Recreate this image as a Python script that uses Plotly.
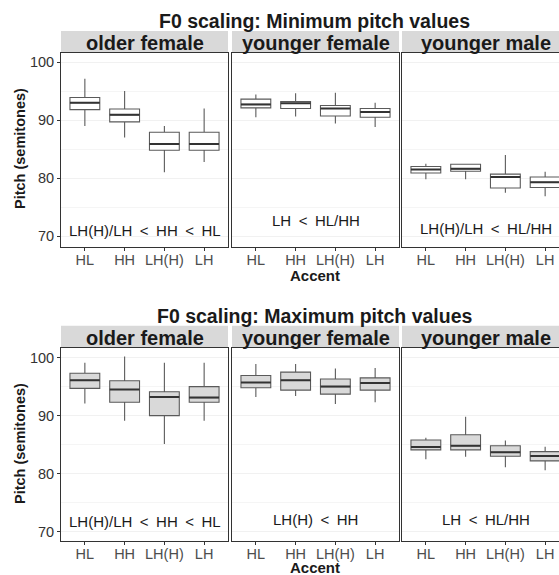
import plotly.graph_objects as go

# ---------------- data ----------------
accents = ["HL", "HH", "LH(H)", "LH"]
groups = ["older female", "younger female", "younger male"]
panel_titles = ["F0 scaling: Minimum pitch values", "F0 scaling: Maximum pitch values"]

# Minimum pitch values (semitones)
min_lower = [[89.0, 87.0, 81.0, 82.8], [90.5, 90.6, 89.4, 88.8], [79.8, 79.8, 77.5, 76.9]]
min_q1    = [[91.8, 89.7, 84.8, 84.8], [92.1, 92.0, 90.7, 90.5], [80.9, 81.2, 78.3, 78.4]]
min_med   = [[93.0, 90.9, 85.9, 85.9], [92.7, 92.9, 92.0, 91.4], [81.5, 81.6, 80.2, 79.3]]
min_q3    = [[93.9, 91.9, 87.9, 87.9], [93.6, 93.2, 92.5, 92.0], [82.0, 82.4, 80.7, 80.2]]
min_upper = [[97.1, 95.0, 89.0, 92.0], [94.4, 94.6, 94.7, 93.0], [82.5, 82.4, 84.0, 81.1]]

# Maximum pitch values (semitones)
max_lower = [[92.1, 89.1, 85.1, 89.1], [93.2, 93.4, 92.0, 92.3], [82.5, 82.9, 81.1, 80.6]]
max_q1    = [[94.7, 92.3, 90.0, 92.3], [94.8, 94.4, 93.7, 94.4], [84.1, 84.1, 83.0, 82.2]]
max_med   = [[96.1, 94.5, 93.2, 93.1], [95.7, 96.1, 95.0, 95.6], [84.6, 84.8, 83.7, 83.05]]
max_q3    = [[97.3, 96.0, 94.1, 95.0], [96.9, 97.5, 96.3, 96.5], [85.8, 86.7, 84.8, 83.8]]
max_upper = [[99.1, 100.2, 99.1, 99.1], [98.9, 98.9, 98.1, 98.2], [86.2, 89.8, 85.7, 84.65]]

min_labels = ["LH(H)/LH < HH < HL", "LH < HL/HH", "LH(H)/LH < HL/HH"]
max_labels = ["LH(H)/LH < HH < HL", "LH(H) < HH", "LH < HL/HH"]

y_ticks = [70, 80, 90, 100]

# ---------------- layout geometry ----------------
W, H = 559, 575
FONT = "Liberation Sans, Arial, sans-serif"

def px_x(p):
    return p / W

def px_y(p):
    return 1 - p / H

xdom = [(px_x(61), px_x(228)), (px_x(232), px_x(399)), (px_x(402), 1.0)]
rows = [
    dict(top=53, bottom=246.7, strip_top=31, yr=[68.2, 101.55], fill="#ffffff",
         title_y=21, ylab_y=149, accent_y=275.5, lab_y=[71.0, 72.7, 71.3],
         data=(min_lower, min_q1, min_med, min_q3, min_upper), labels=min_labels),
    dict(top=347.7, bottom=541, strip_top=325.7, yr=[68.4, 101.7], fill="#d9d9d9",
         title_y=316, ylab_y=444, accent_y=567.5, lab_y=[71.8, 72.1, 72.1],
         data=(max_lower, max_q1, max_med, max_q3, max_upper), labels=max_labels),
]

fig = go.Figure()
layout = dict(
    width=W, height=H,
    margin=dict(l=0, r=0, t=0, b=0),
    paper_bgcolor="white", plot_bgcolor="white",
    showlegend=False,
    font=dict(family=FONT, color="#1a1a1a"),
    shapes=[], annotations=[],
)

for r, row in enumerate(rows):
    lower, q1, med, q3, upper = row["data"]
    ydom = (px_y(row["bottom"]), px_y(row["top"]))
    for c, g in enumerate(groups):
        k = r * 3 + c + 1
        sfx = "" if k == 1 else str(k)
        xa, ya = f"x{sfx}", f"y{sfx}"
        # box bodies + whiskers
        fig.add_trace(go.Box(
            x=accents, q1=q1[c], median=med[c], q3=q3[c],
            lowerfence=lower[c], upperfence=upper[c],
            xaxis=xa, yaxis=ya, width=0.75, whiskerwidth=0,
            fillcolor=row["fill"], line=dict(color="#5a5a5a", width=1.1),
            boxpoints=False, hoverinfo="skip",
        ))
        # emphasised median bar
        fig.add_trace(go.Box(
            x=accents, q1=med[c], median=med[c], q3=med[c],
            lowerfence=med[c], upperfence=med[c],
            xaxis=xa, yaxis=ya, width=0.75, whiskerwidth=0,
            fillcolor="rgba(0,0,0,0)", line=dict(color="#333333", width=2),
            boxpoints=False, hoverinfo="skip",
        ))
        xr = [-0.6, 3.6] if c < 2 else [-0.6, -0.6 + (W - 402) * 4.2 / 167]
        layout[f"xaxis{sfx}"] = dict(
            domain=list(xdom[c]), anchor=ya, type="category",
            categoryorder="array", categoryarray=accents, range=xr,
            showline=True, mirror=True, linecolor="#333333", linewidth=1,
            ticks="outside", ticklen=3, tickcolor="#333333",
            ticklabelstandoff=-3,
            tickfont=dict(size=14.5, color="#4d4d4d", family=FONT),
            showgrid=False, zeroline=False, fixedrange=True,
        )
        layout[f"yaxis{sfx}"] = dict(
            domain=list(ydom), anchor=xa, range=row["yr"],
            tickmode="array", tickvals=y_ticks,
            showticklabels=(c == 0), ticks="outside" if c == 0 else "",
            ticklen=3, tickcolor="#333333",
            tickfont=dict(size=14.5, color="#333333", family=FONT),
            showline=True, mirror=(c < 2), linecolor="#333333", linewidth=1,
            showgrid=True, gridcolor="#f1f1f1", gridwidth=1,
            minor=dict(tickmode="array", tickvals=[75, 85, 95], showgrid=True,
                       gridcolor="#f5f5f5", gridwidth=1),
            zeroline=False, fixedrange=True,
        )
        # strip
        layout["shapes"].append(dict(
            type="rect", xref=f"{xa} domain", yref="paper",
            x0=0, x1=1, y0=px_y(row["top"]), y1=px_y(row["strip_top"]),
            fillcolor="#d9d9d9", line=dict(width=0), layer="below",
        ))
        layout["annotations"].append(dict(
            xref=xa, yref="paper", x=1.5, y=px_y((row["top"] + row["strip_top"]) / 2 + 1),
            text=f"<b>{g}</b>", showarrow=False, xanchor="center", yanchor="middle",
            font=dict(size=20, color="#1a1a1a", family=FONT),
        ))
        # comparison label (wide spacing around "<" as in the original)
        layout["annotations"].append(dict(
            xref=xa, yref=ya, x=1.5, y=row["lab_y"][c],
            text=row["labels"][c].replace(" ", "\u2002"), showarrow=False,
            xanchor="center", yanchor="middle",
            font=dict(size=15, color="#1a1a1a", family=FONT),
        ))
    # title, axis titles
    layout["annotations"].append(dict(
        xref="paper", yref="paper", x=px_x(314), y=px_y(row["title_y"]),
        text=f"<b>{panel_titles[r]}</b>", showarrow=False, xanchor="center", yanchor="middle",
        font=dict(size=19.5, color="#1a1a1a", family=FONT),
    ))
    layout["annotations"].append(dict(
        xref="paper", yref="paper", x=px_x(20), y=px_y(row["ylab_y"]),
        text="<b>Pitch (semitones)</b>", textangle=-90, showarrow=False,
        xanchor="center", yanchor="middle",
        font=dict(size=14.5, color="#1a1a1a", family=FONT),
    ))
    layout["annotations"].append(dict(
        xref="paper", yref="paper", x=px_x(315), y=px_y(row["accent_y"]),
        text="<b>Accent</b>", showarrow=False, xanchor="center", yanchor="middle",
        font=dict(size=15, color="#1a1a1a", family=FONT),
    ))

fig.update_layout(**layout)
fig.write_html("out.html", config=dict(displayModeBar=False))
